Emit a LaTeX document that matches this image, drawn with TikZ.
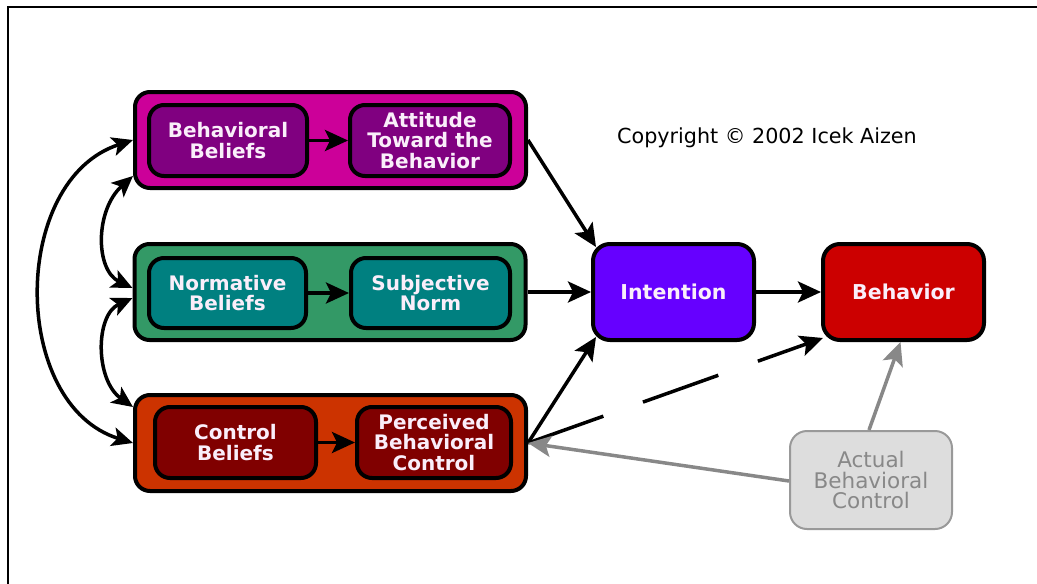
\documentclass[tikz,border=0pt]{standalone}
\usepackage{fontspec}
\setmainfont{DejaVu Sans}
\usetikzlibrary{arrows.meta}
\definecolor{outerA}{HTML}{CC0099}
\definecolor{innerA}{HTML}{800080}
\definecolor{outerB}{HTML}{339966}
\definecolor{innerB}{HTML}{008080}
\definecolor{outerC}{HTML}{CC3300}
\definecolor{innerC}{HTML}{800000}
\definecolor{intcol}{HTML}{6600FF}
\definecolor{behcol}{HTML}{CC0000}
\definecolor{abcfill}{HTML}{DDDDDD}
\definecolor{abcdraw}{HTML}{999999}
\definecolor{abctext}{HTML}{888888}
\definecolor{arrgray}{HTML}{888888}
\definecolor{boxtext}{HTML}{FAEEFA}
\tikzset{
  tip/.style={-{Stealth[length=23pt,width=21pt,inset=5pt]}},
  outerbox/.style={draw=black, line width=4pt, rounded corners=15pt, minimum width=391pt, minimum height=96pt},
  innerbox/.style={draw=black, line width=4pt, rounded corners=15pt, minimum height=71pt, align=center,
     text=boxtext, font=\fontsize{20}{20.5}\selectfont\bfseries, inner sep=0pt},
  bigbox/.style={draw=black, line width=4pt, rounded corners=17pt, minimum width=161pt, minimum height=96pt,
     text=boxtext, font=\fontsize{20.5}{21}\selectfont\bfseries},
  abcbox/.style={draw=abcdraw, fill=abcfill, line width=2pt, rounded corners=17pt, minimum width=162pt,
     minimum height=98pt, align=center, text=abctext, font=\fontsize{21.5}{20.5}\selectfont, inner sep=0pt},
  conn/.style={draw=black, line width=3.5pt, tip},
  gconn/.style={draw=arrgray, line width=3.5pt, tip},
  curved/.style={draw=black, line width=3.5pt, {Stealth[length=21pt,width=19pt,inset=5pt]}-{Stealth[length=21pt,width=19pt,inset=5pt]}},
}
\begin{document}
\begin{tikzpicture}[x=1pt,y=-1pt]
\useasboundingbox (0,0) rectangle (1037,584);
\fill[white] (0,0) rectangle (1037,584);
\draw[line width=2.5pt] (8,584) -- (8,7) -- (1037,7);

% outer group boxes
\node[outerbox, fill=outerA] (top) at (330.5,140) {};
\node[outerbox, fill=outerB] (mid) at (330,292) {};
\node[outerbox, fill=outerC] (bot) at (330.5,443) {};

% inner boxes
\node[innerbox, fill=innerA, minimum width=158pt] (bb) at (228,140.5) {Behavioral\\Beliefs};
\node[innerbox, fill=innerA, minimum width=160pt] (att) at (430,140.5) {Attitude\\Toward the\\Behavior};
\node[innerbox, fill=innerB, minimum width=157pt, minimum height=70pt] (nb) at (227.5,293) {Normative\\Beliefs};
\node[innerbox, fill=innerB, minimum width=159pt, minimum height=70pt] (sn) at (430.5,293) {Subjective\\Norm};
\node[innerbox, fill=innerC, minimum width=161pt] (cb) at (235.5,442.5) {Control\\Beliefs};
\node[innerbox, fill=innerC, minimum width=154pt] (pbc) at (434,442.5) {Perceived\\Behavioral\\Control};

\draw[conn] (bb) -- (att);
\draw[conn] (nb) -- (sn);
\draw[conn] (cb) -- (pbc);

% main boxes
\node[bigbox, fill=intcol] (int) at (673.5,292) {Intention};
\node[bigbox, fill=behcol] (beh) at (903.5,292) {Behavior};
\node[abcbox] (abc) at (871,480) {Actual\\Behavioral\\Control};

\node[font=\fontsize{20.7}{21}\selectfont] (copy) at (767,138) {Copyright \textcopyright{} 2002 Icek Aizen};

% connectors
\draw[conn] (top.east) -- ([shift={(5pt,-5pt)}]int.north west);
\draw[conn] (mid.east) -- (int.west);
\draw[conn] (bot.east) -- ([shift={(5pt,5pt)}]int.south west);
\draw[conn] (int.east) -- (beh.west);
\draw[conn, dash pattern=on 80pt off 42pt] (bot.east) -- ([shift={(2pt,4pt)}]beh.south west);
\draw[gconn] ([xshift=-2pt]abc.north) -- ([xshift=-3pt]beh.south);
\draw[gconn] ([yshift=-1pt]abc.west) -- (bot.east);

% curved correlations
\draw[curved] (top.west) .. controls (10,180) and (10,405) .. (bot.west);
\draw[curved] ([yshift=14pt]top.south west) .. controls (95,210) and (95,270) .. ([yshift=4pt]mid.west);
\draw[curved] ([yshift=-6pt]mid.west) .. controls (95,315) and (95,380) .. ([yshift=-14pt]bot.north west);
\end{tikzpicture}
\end{document}
